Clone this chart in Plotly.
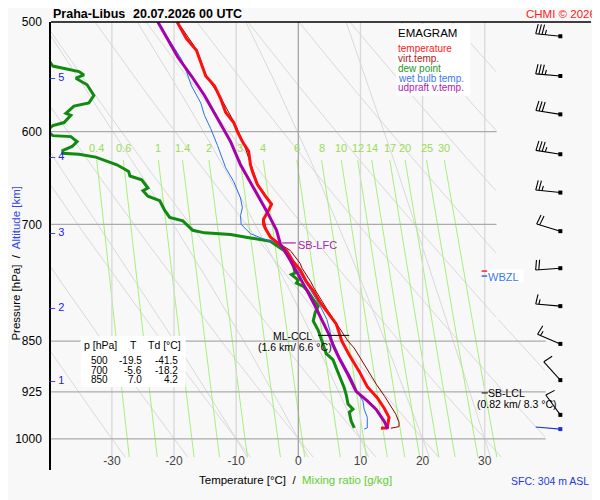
import numpy as np
import plotly.graph_objects as go

# ---- sounding values (pressure hPa / temperature degC) ----
temp_p = [500, 514, 524, 534, 547, 556, 568, 581, 591, 600, 610, 620, 634, 641, 655, 668,
          677, 684, 694, 700, 705, 715, 723, 731, 745, 755, 770, 782, 797, 811, 826, 850,
          870, 894, 917, 934, 950, 965, 982, 982.5]
temp_t = [-19.5, -18.0, -16.4, -15.7, -14.9, -13.5, -12.5, -11.7, -10.4, -9.8, -9.0, -8.0,
          -7.7, -7.4, -6.6, -5.3, -4.3, -4.8, -5.6, -5.6, -5.3, -4.5, -3.2, -1.9, -0.8, 0.3,
          1.3, 2.4, 3.5, 4.8, 6.1, 7.0, 8.2, 9.8, 11.1, 12.7, 13.8, 14.6, 14.3, 13.3]

virt_p = [500, 524, 547, 568, 591, 610, 634, 655, 677, 694, 705, 715, 725, 731, 739, 747,
          753, 761, 770, 778, 793, 806, 820, 835, 850, 860, 875, 897, 914, 932, 947, 960,
          973, 980, 982.5]
virt_t = [-19.4, -16.3, -14.8, -12.4, -10.3, -8.9, -7.6, -6.5, -4.2, -5.5, -5.2, -4.3,
          -2.6, -1.3, -0.5, 0.3, 0.6, 1.3, 2.0, 2.5, 3.6, 4.6, 5.7, 6.8, 8.0, 9.0, 10.0,
          11.4, 12.6, 13.9, 14.9, 15.7, 16.2, 16.2, 14.9]

dew_p = [500, 520, 538, 543, 546, 549, 555, 565, 572, 575, 582, 584, 591, 594, 599, 604,
         605, 610, 615, 619, 622, 623, 626, 631, 634, 641, 646, 650, 659, 662, 668, 673,
         684, 692, 696, 700, 707, 710, 712, 716, 720, 725, 731, 741, 750, 759, 761, 768,
         772, 776, 782, 793, 802, 811, 822, 835, 844, 850, 868, 877, 889, 907, 919, 929,
         944, 952, 957, 971, 982]
dew_t = [-41.5, -42.0, -39.5, -35.3, -34.5, -35.8, -34.0, -32.9, -33.7, -36.1, -37.4, -36.6,
         -37.7, -39.5, -40.5, -39.5, -36.6, -35.6, -36.4, -37.9, -37.9, -35.3, -32.6, -30.3,
         -29.2, -27.3, -27.1, -25.2, -24.2, -25.0, -24.2, -22.3, -21.5, -20.7, -18.6, -18.0,
         -17.0, -15.1, -10.9, -7.7, -4.5, -3.5, -2.3, -1.3, -0.8, -0.5, -1.1, 0.0, -0.3, 0.8,
         1.5, 2.4, 3.2, 2.7, 2.4, 3.2, 3.6, 3.8, 4.5, 5.6, 6.1, 6.9, 7.4, 7.7, 8.0, 8.8, 8.2,
         8.5, 9.0]

wet_p = [500, 518, 532, 543, 556, 572, 584, 597, 614, 637, 652, 670, 681, 690, 700, 711,
         719, 722, 731, 740, 760, 780, 800, 820, 850, 870, 890, 905, 927, 939, 952, 965,
         982, 984]
wet_t = [-22.6, -20.4, -18.8, -18.0, -17.2, -15.7, -15.1, -14.1, -13.0, -11.7, -10.4, -9.3,
         -9.0, -9.3, -9.2, -7.7, -5.0, -3.5, -2.1, -1.1, 0.3, 1.9, 3.4, 4.6, 5.5, 6.5, 7.7,
         8.6, 9.6, 10.4, 10.6, 11.1, 11.1, 10.6]

upd_p = [500, 530, 547, 565, 587, 610, 634, 666, 686, 707, 723, 743, 761, 780, 802, 824,
         842, 856, 875, 899, 924, 939, 952, 971, 981, 982.5]
upd_t = [-22.6, -19.4, -17.2, -15.1, -13.0, -10.9, -9.3, -6.6, -5.0, -3.5, -2.9, -1.3, 0.0,
         1.3, 2.7, 4.0, 5.0, 5.6, 6.6, 8.0, 9.3, 11.1, 12.5, 13.8, 14.3, 14.0]

table_p = [500, 700, 850]
table_t = [-19.5, -5.6, 7.0]
table_td = [-41.5, -18.2, 4.2]

alt_km = [1, 2, 3, 4, 5]
alt_p = [907.5, 802.6, 708.6, 624.4, 547.7]

wind_p = [512, 547, 583, 623, 664, 708, 753, 802, 854, 907, 961, 984]
wind_dir = [276, 275, 279, 279, 276, 287, 266, 275, 293, 318, 324, 275]
wind_kt = [35, 35, 30, 35, 25, 20, 20, 15, 15, 10, 10, 3]

p_ticks = [500, 600, 700, 850, 925, 1000]
t_ticks = [-30, -20, -10, 0, 10, 20, 30]
mix_ratios = [0.4, 0.6, 1, 1.4, 2, 3, 4, 6, 8, 10, 12, 14, 17, 20, 25, 30]
theta_dry = list(range(-30, 111, 10))
t1000_moist = [-10, 0, 10, 20, 30]

FONT = "Liberation Sans, Arial, sans-serif"

# ---- geometry; the page body adds an 8 px offset, so the figure is 8 px smaller ----
OFF = 8
W, H = 600 - OFF, 500 - OFF
X_PLOT, Y_PLOT = 45, 15          # plot corner in window pixels
ML, MT = X_PLOT - OFF, Y_PLOT - OFF
MR, MB = 9, 30
PW, PH = W - ML - MR, H - MT - MB
SX = 6.283                       # px per degC
SY = 610.7                       # px per unit ln(p)
T_MIN = -39.8
T_MAX = T_MIN + PW / SX
P_TOP = 500.0
P_BOT = P_TOP * np.exp(PH / SY)


def xp(px):
    return (px - X_PLOT) / PW


def yp(py):
    return (Y_PLOT + PH - py) / PH


def t2px(t):
    return X_PLOT + (t - T_MIN) * SX


def p2py(p):
    return Y_PLOT + SY * np.log(p / P_TOP)


def clip_right(t, p):
    t = np.array(t, float)
    lim = np.where(np.asarray(p) < 820, 31.9, 39.8)
    t[t > lim] = np.nan
    return t


fig = go.Figure()


def add_line(x, y, color, width, dash=None):
    fig.add_trace(go.Scatter(x=x, y=y, mode="lines", connectgaps=False, hoverinfo="skip",
                             showlegend=False, line=dict(color=color, width=width, dash=dash)))


pp = np.arange(500.0, 1032.0, 1.0)

# dry adiabats
xs, ys = [], []
for th in theta_dry:
    t = (th + 273.15) * (pp / 1000.0) ** 0.286 - 273.15
    xs += list(clip_right(t, pp)) + [None]
    ys += list(pp) + [None]
add_line(xs, ys, "#d9d9d9", 1)


# pseudo-adiabats
def moist_slope(T, p):
    es = 6.112 * np.exp(17.67 * (T - 273.15) / (T - 29.65))
    rs = 0.622 * es / (p - es)
    return (287.04 * T + 2.501e6 * rs) / p / (1005.7 + 2.501e6 ** 2 * rs * 0.622 / (287.04 * T * T))


xs, ys = [], []
i0 = int(np.argmin(abs(pp - 1000)))
for t0 in t1000_moist:
    T = np.empty_like(pp)
    T[i0] = t0 + 273.15
    for i in range(i0, len(pp) - 1):
        dp = pp[i + 1] - pp[i]
        k1 = moist_slope(T[i], pp[i])
        k2 = moist_slope(T[i] + dp * k1, pp[i + 1])
        T[i + 1] = T[i] + dp * (k1 + k2) / 2
    for i in range(i0, 0, -1):
        dp = pp[i - 1] - pp[i]
        k1 = moist_slope(T[i], pp[i])
        k2 = moist_slope(T[i] + dp * k1, pp[i - 1])
        T[i - 1] = T[i] + dp * (k1 + k2) / 2
    xs += list(clip_right(T - 273.15, pp)) + [None]
    ys += list(pp) + [None]
add_line(xs, ys, "#d9d9d9", 1)


# mixing ratio lines
def td_from_w(w, p):
    e = w * p / (622.0 + w)
    a = np.log(e / 6.112)
    return 243.5 * a / (17.67 - a)


pm = np.linspace(629, 1031, 60)
xs, ys = [], []
for w in mix_ratios:
    xs += list(td_from_w(w, pm)) + [None]
    ys += list(pm) + [None]
add_line(xs, ys, "#a6f07a", 1)

# isotherms and isobars
for t in t_ticks:
    add_line([t, t], [500, 1031], "#a4a4a4" if t == 0 else "#d8d8d8", 1.3)
for p in p_ticks[1:]:
    add_line([T_MIN, 31.9 if p < 800 else 39.8], [p, p], "#ababab", 1.3)

# profiles (virtual temperature sits under the temperature line)
add_line(virt_t, virt_p, "#8b0000", 1)
add_line(dew_t, dew_p, "#118a11", 3)
add_line(wet_t, wet_p, "#2a6ee8", 1)
add_line(temp_t, temp_p, "#ff1010", 3)
add_line(upd_t, upd_p, "#a800a8", 3)

# level markers
add_line([-2.6, -0.4], [722, 722], "#aa22aa", 1.2)
add_line([3.2, 8.2], [842, 842], "black", 1)
add_line([29.5, 30.5], [926.6, 926.6], "black", 1)
add_line([29.5, 30.6], [756.6, 756.6], "#ff2020", 1.5)
add_line([30.6, 34.6], [756.6, 756.6], "#ff2020", 1.2, "dot")
add_line([29.5, 30.6], [762.9, 762.9], "#2a6ee8", 1.5)

# wind barbs
st_x = T_MIN + (560 - X_PLOT) / SX
for i, (p0, d, s) in enumerate(zip(wind_p, wind_dir, wind_kt)):
    a = np.radians(d)
    u = np.array([np.sin(a), np.cos(a)])
    v = np.array([np.cos(a), -np.sin(a)])
    segs = [(np.zeros(2), 25 * u)]
    pos = 25.0
    for _ in range(int(s // 10)):
        segs.append((pos * u, pos * u + 10 * v - 1.5 * u))
        pos -= 3.2
    if s % 10 >= 5:
        segs.append((pos * u, pos * u + 5 * v - 0.8 * u))
    bx, by = [], []
    for a0, a1 in segs:
        for q in (a0, a1):
            bx.append(st_x + q[0] / SX)
            by.append(p0 * np.exp(-q[1] / SY))
        bx.append(None)
        by.append(None)
    col = "#1a33dd" if i == len(wind_p) - 1 else "black"
    add_line(bx, by, col, 1.1)
    fig.add_trace(go.Scatter(x=[st_x], y=[p0], mode="markers", hoverinfo="skip", showlegend=False,
                             marker=dict(symbol="square", size=4, color=col)))

# ---- boxes ----
shapes = [
    dict(type="line", xref="paper", yref="paper", x0=0, x1=1, y0=1, y1=1,
         line=dict(color="black", width=1.5)),
    dict(type="rect", xref="paper", yref="paper", x0=xp(394), x1=xp(469), y0=yp(17), y1=yp(90),
         fillcolor="white", line=dict(width=0), layer="above"),
    dict(type="rect", xref="paper", yref="paper", x0=xp(75), x1=xp(181), y0=yp(334), y1=yp(386),
         fillcolor="white", line=dict(width=0), layer="above"),
    dict(type="rect", xref="paper", yref="paper", x0=xp(486), x1=xp(523), y0=yp(266), y1=yp(279),
         fillcolor="white", line=dict(width=0), layer="above"),
]


def note(text, x, y, size=11, color="black", xanchor="left", **kw):
    fig.add_annotation(text=text, x=xp(x), y=yp(y), xref="paper", yref="paper", showarrow=False,
                       xanchor=xanchor, yanchor="middle", borderpad=0,
                       font=dict(size=size, color=color, family=FONT), **kw)


note("<b>Praha-Libus</b>", 46, 7, 12.5)
note("<b>20.07.2026 00 UTC</b>", 127, 7, 12.5)
note("CHMI © 2026", 597, 7, 11.5, "#ff2020", xanchor="right")

note("EMAGRAM", 395, 26, 11.5)
legend_items = [("temperature", "#ff2020"), ("virt.temp.", "#b02020"), ("dew point", "#229922"),
                ("wet bulb temp.", "#3a7ae8"), ("udpraft v.temp.", "#b020b0")]
for k, (lab, col) in enumerate(legend_items):
    note(lab, 395, 42 + 10 * k, 10, col)

note("p [hPa]", 95, 343, 10.5, xanchor="center")
note("T", 128, 343, 10.5, xanchor="center")
note("Td [°C]", 160, 343, 10.5, xanchor="center")
for k, (p, t, td) in enumerate(zip(table_p, table_t, table_td)):
    yy = 358.5 + 10 * k
    note(f"{p}", 94, yy, 10, xanchor="center")
    note(f"{t:.1f}", 138, yy, 10, xanchor="right")
    note(f"{td:.1f}", 174, yy, 10, xanchor="right")

for km, p in zip(alt_km, alt_p):
    note(f"– {km}", 42, p2py(p), 11, "#2222ee")

for w in mix_ratios:
    note(f"{w:g}", t2px(td_from_w(w, 629.0)), 143, 11, "#99dd55", xanchor="center")

note("SB-LFC", 294, 241.5, 11, "#aa22aa")
note("ML-CCL", 289, 333.5, 10.5, xanchor="center")
note("(1.6 km/ 6.6 °C)", 292, 345, 10.5, xanchor="center")
note("SB-LCL", 486, 391.5, 10.5)
note("(0.82 km/ 8.3 °C)", 516, 402.5, 10.5, xanchor="center")
note("WBZL", 486, 273.5, 11, "#3a7ae8")

note("Pressure [hPa]  /  <span style='color:#3344ee'>Altitude [km]</span>", 10, 260, 11.5,
     xanchor="center", textangle=-90)
note("Temperature [°C]  /  <span style='color:#66cc33'>Mixing ratio [g/kg]</span>", 292, 480, 11.5,
     xanchor="center")
note("SFC: 304 m ASL", 590, 481, 10.5, "#2238e0", xanchor="right")

fig.update_layout(
    width=W, height=H, margin=dict(l=ML, r=MR, t=MT, b=MB),
    paper_bgcolor="#f8f8f8", plot_bgcolor="#f8f8f8",
    font=dict(family=FONT, size=11, color="black"),
    shapes=shapes, showlegend=False,
    xaxis=dict(range=[T_MIN, T_MAX], tickvals=t_ticks, ticktext=[str(t) for t in t_ticks],
               ticklabelposition="inside", ticks="", showgrid=False, zeroline=False,
               showline=False, tickfont=dict(size=12)),
    yaxis=dict(type="log", range=[np.log10(P_BOT), np.log10(P_TOP)], tickvals=p_ticks,
               ticktext=[str(p) for p in p_ticks], ticks="", showgrid=False, zeroline=False,
               showline=True, linecolor="black", linewidth=1.5, ticklabelstandoff=5,
               tickfont=dict(size=12)),
)

fig.write_html("out.html")
